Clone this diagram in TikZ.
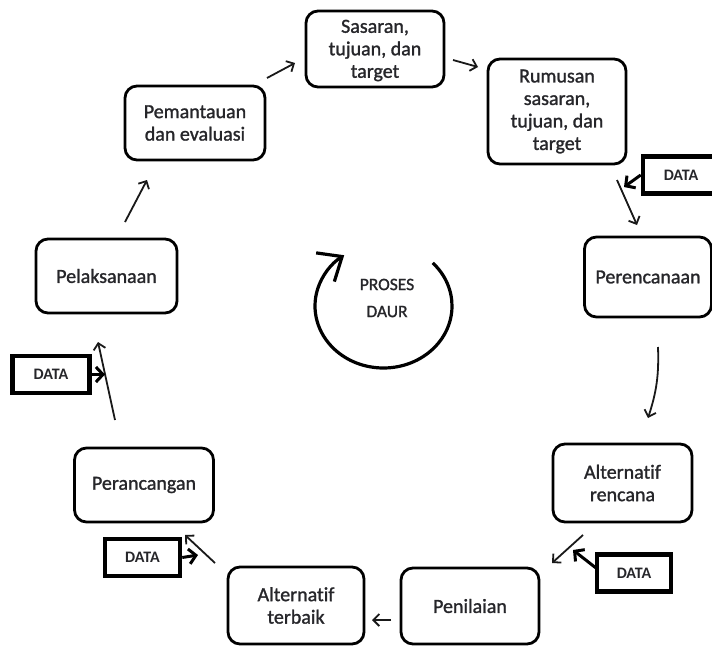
\documentclass[tikz,border=0pt]{standalone}
\usepackage{fontspec}
\setmainfont{Carlito}[Ligatures=NoCommon]
\newfontfamily\boxfont{Carlito}[FakeBold=1.3, Ligatures=NoCommon]
\usetikzlibrary{arrows.meta}
\definecolor{txt}{RGB}{38,38,42}
\tikzset{
  box/.style={draw=black, line width=2.8pt, rounded corners=12pt, align=center, inner sep=0pt,
              font=\boxfont\fontsize{20}{22.5}\selectfont, text=txt},
  databox/.style={draw=black, line width=4.5pt, inner sep=0pt, minimum width=74pt, minimum height=37pt,
              font=\fontsize{16}{18}\selectfont\bfseries, text=txt},
  arr/.style={draw=black!90, line width=1.8pt, -{Straight Barb[length=6pt,width=12pt]}},
  darr/.style={draw=black, line width=3pt, -{Straight Barb[length=7pt,width=15pt]}},
}
\begin{document}
\begin{tikzpicture}[x=1pt,y=-1pt]
\useasboundingbox (0,0) rectangle (712,648);
% process boxes
\node[box, minimum width=138pt, minimum height=76pt] (sas) at (375,49) {\rule{0pt}{16pt}Sasaran,\\tujuan, dan\\target};
\node[box, minimum width=138pt, minimum height=105pt] (rum) at (557,111.5) {Rumusan\\sasaran,\\tujuan, dan\\target};
\node[box, minimum width=127pt, minimum height=80pt] (per) at (648,277) {Perencanaan};
\node[box, minimum width=139pt, minimum height=78pt] (altr) at (622.5,483) {Alternatif\\rencana};
\node[box, minimum width=138pt, minimum height=76pt] (pen) at (470,606) {Penilaian};
\node[box, minimum width=136pt, minimum height=77pt] (altt) at (296,605.5) {Alternatif\\terbaik};
\node[box, minimum width=139pt, minimum height=74pt] (pcg) at (144,485) {Perancangan};
\node[box, minimum width=141pt, minimum height=74pt] (pel) at (106.5,276) {Pelaksanaan};
\node[box, minimum width=140pt, minimum height=74pt] (pem) at (195,123) {Pemantauan\\dan evaluasi};
% data boxes
\node[databox, minimum width=76pt] (d1) at (681,175) {DATA};
\node[databox, minimum width=77pt] (d2) at (51,374.5) {DATA};
\node[databox, minimum width=75pt] (d3) at (142.5,557.5) {DATA};
\node[databox] (d4) at (634,573) {DATA};
% arrow end points
\coordinate (a1s) at (617,180); \coordinate (a1e) at (637,225);
\coordinate (a2s) at (658,347); \coordinate (a2e) at (648,418);
\coordinate (a3s) at (583,535); \coordinate (a3e) at (552,563);
\coordinate (a4s) at (391,620); \coordinate (a4e) at (372,620);
\coordinate (a5s) at (215,563); \coordinate (a5e) at (185,535);
\coordinate (a6s) at (115,420); \coordinate (a6e) at (98,342);
\coordinate (a7s) at (125,222); \coordinate (a7e) at (147,180);
\coordinate (a8s) at (267,78);  \coordinate (a8e) at (295,63);
\coordinate (a9s) at (453,60);  \coordinate (a9e) at (478,67);
\coordinate (t1) at (624,187);
\coordinate (t2) at (105,374.5);
\coordinate (t3) at (198,555);
\coordinate (t4) at (573,550);
\coordinate (d4s) at (596,568);
% cycle arrows
\draw[arr] (a1s) -- (a1e);
\draw[arr] (a2s) to[bend left=10] (a2e);
\draw[arr] (a3s) -- (a3e);
\draw[arr] (a4s) -- (a4e);
\draw[arr] (a5s) -- (a5e);
\draw[arr] (a6s) -- (a6e);
\draw[arr] (a7s) -- (a7e);
\draw[arr] (a8s) -- (a8e);
\draw[arr] (a9s) -- (a9e);
% data arrows
\draw[darr] (d1.west) -- (t1);
\draw[darr] (d2.east) -- (t2);
\draw[darr] (d3.east) -- (t3);
\draw[darr] (d4s) -- (t4);
% central cycle
\coordinate (cc) at (383.5,306);
\draw[line width=3.2pt, -{Straight Barb[length=20pt,width=34pt]}]
  ([shift={(44:68.5pt and 62pt)}]cc) arc[start angle=44, end angle=-235, x radius=68.5pt, y radius=62pt];
\node[align=center, font=\boxfont\fontsize{17.5}{27}\selectfont, text=txt] (pd) at (387,298) {PROSES\\DAUR};
\end{tikzpicture}
\end{document}
